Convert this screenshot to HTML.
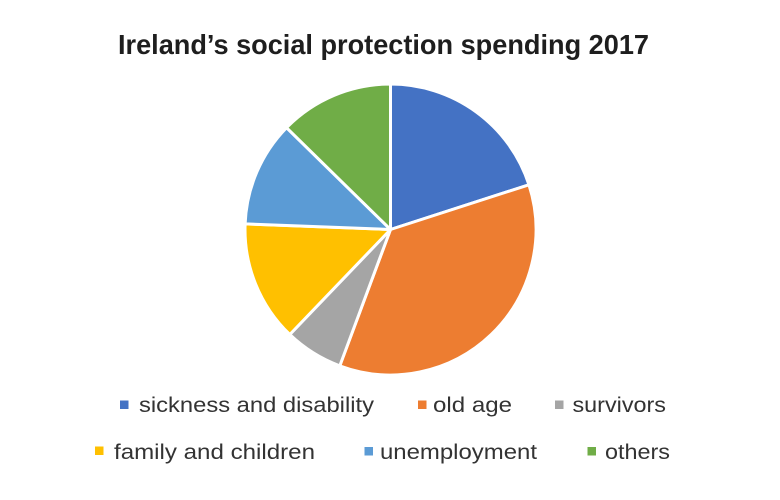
<!DOCTYPE html>
<html>
<head>
<meta charset="utf-8">
<style>
  html, body { margin: 0; padding: 0; background: #ffffff; }
  body { width: 780px; height: 500px; overflow: hidden; }
  svg { display: block; }
  .t { font-family: "Liberation Sans", Arial, sans-serif; }
</style>
</head>
<body>
<svg width="780" height="500" viewBox="0 0 780 500" xmlns="http://www.w3.org/2000/svg">
  <rect x="0" y="0" width="780" height="500" fill="#ffffff"/>

  <!-- Title -->
  <text class="t" x="118" y="54" font-size="28" font-weight="bold" fill="#1e1e1e"
        textLength="531" lengthAdjust="spacingAndGlyphs">Ireland’s social protection spending 2017</text>

  <!-- Pie -->
  <g stroke="#ffffff" stroke-width="3" stroke-linejoin="round">
    <!-- sickness and disability -->
    <path d="M390.5,229.5 L390.5,84 A145.5,145.5 0 0 1 528.96,184.77 Z" fill="#4472C4"/>
    <!-- old age -->
    <path d="M390.5,229.5 L528.96,184.77 A145.5,145.5 0 0 1 339.78,365.88 Z" fill="#ED7D31"/>
    <!-- survivors -->
    <path d="M390.5,229.5 L339.78,365.88 A145.5,145.5 0 0 1 289.80,334.52 Z" fill="#A5A5A5"/>
    <!-- family and children -->
    <path d="M390.5,229.5 L289.80,334.52 A145.5,145.5 0 0 1 245.11,223.91 Z" fill="#FFC000"/>
    <!-- unemployment -->
    <path d="M390.5,229.5 L245.11,223.91 A145.5,145.5 0 0 1 286.54,127.69 Z" fill="#5B9BD5"/>
    <!-- others -->
    <path d="M390.5,229.5 L286.54,127.69 A145.5,145.5 0 0 1 390.5,84 Z" fill="#70AD47"/>
  </g>

  <!-- Legend row 1 -->
  <rect x="120" y="400.5" width="8.5" height="8.5" fill="#4472C4"/>
  <text class="t" x="139" y="412" font-size="21.5" fill="#333333"
        textLength="235" lengthAdjust="spacingAndGlyphs">sickness and disability</text>

  <rect x="418" y="400.5" width="8.5" height="8.5" fill="#ED7D31"/>
  <text class="t" x="433" y="412" font-size="21.5" fill="#333333"
        textLength="79" lengthAdjust="spacingAndGlyphs">old age</text>

  <rect x="555" y="400.5" width="8.5" height="8.5" fill="#A5A5A5"/>
  <text class="t" x="572.5" y="412" font-size="21.5" fill="#333333"
        textLength="93.5" lengthAdjust="spacingAndGlyphs">survivors</text>

  <!-- Legend row 2 -->
  <rect x="95" y="446.5" width="8.5" height="8.5" fill="#FFC000"/>
  <text class="t" x="114" y="459" font-size="21.5" fill="#333333"
        textLength="201" lengthAdjust="spacingAndGlyphs">family and children</text>

  <rect x="364.5" y="447" width="8.5" height="8.5" fill="#5B9BD5"/>
  <text class="t" x="380" y="459" font-size="21.5" fill="#333333"
        textLength="157" lengthAdjust="spacingAndGlyphs">unemployment</text>

  <rect x="587.5" y="447" width="8.5" height="8.5" fill="#70AD47"/>
  <text class="t" x="605" y="459" font-size="21.5" fill="#333333"
        textLength="65" lengthAdjust="spacingAndGlyphs">others</text>
</svg>
</body>
</html>
